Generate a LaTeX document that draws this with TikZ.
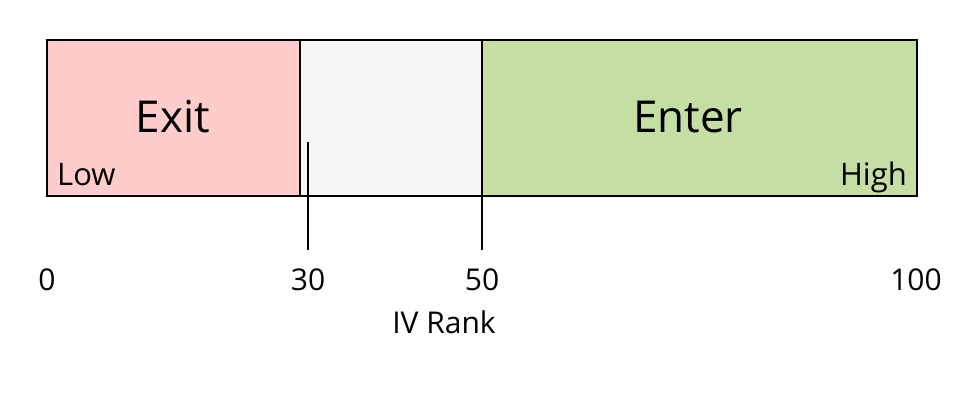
\documentclass[tikz,border=0pt]{standalone}
\usepackage{fontspec}
\setmainfont{Open Sans}
\definecolor{exitred}{HTML}{FFCCCC}
\definecolor{midgray}{HTML}{F6F6F6}
\definecolor{entergreen}{HTML}{C4DEA4}
\begin{document}
\begin{tikzpicture}[x=1pt,y=-1pt,
  band/.style={draw=black,line width=1.5pt},
  tickline/.style={draw=black,line width=1.5pt},
  big/.style={font=\fontsize{44}{50}\selectfont,inner sep=0pt},
  small/.style={font=\fontsize{31}{36}\selectfont,inner sep=0pt},
  num/.style={font=\fontsize{30}{35}\selectfont,inner sep=0pt,anchor=base}]
\useasboundingbox (0,0) rectangle (980,394);
\fill[midgray] (300,40) rectangle (482,196);
\path[band,fill=exitred] (47,40) rectangle (300,196);
\path[band,fill=entergreen] (482,40) rectangle (917,196);
\draw[line width=1.5pt] (47,40) rectangle (917,196);
\node[big] (exit) at (173,117) {Exit};
\node[big] (enter) at (688,117) {Enter};
\node[small,anchor=base west] (low) at (57,185) {Low};
\node[small,anchor=base east] (high) at (907,185) {High};
\coordinate (t30a) at (308,142);
\coordinate (t30b) at (308,250);
\coordinate (t50a) at (482,196);
\coordinate (t50b) at (482,250);
\draw[tickline] (t30a) -- (t30b);
\draw[tickline] (t50a) -- (t50b);
\node[num] (n0) at (47,290) {0};
\node[num] (n30) at (308,290) {30};
\node[num] (n50) at (482,290) {50};
\node[num] (n100) at (916,290) {100};
\node[num] (ivr) at (444,333) {IV Rank};
\end{tikzpicture}
\end{document}
